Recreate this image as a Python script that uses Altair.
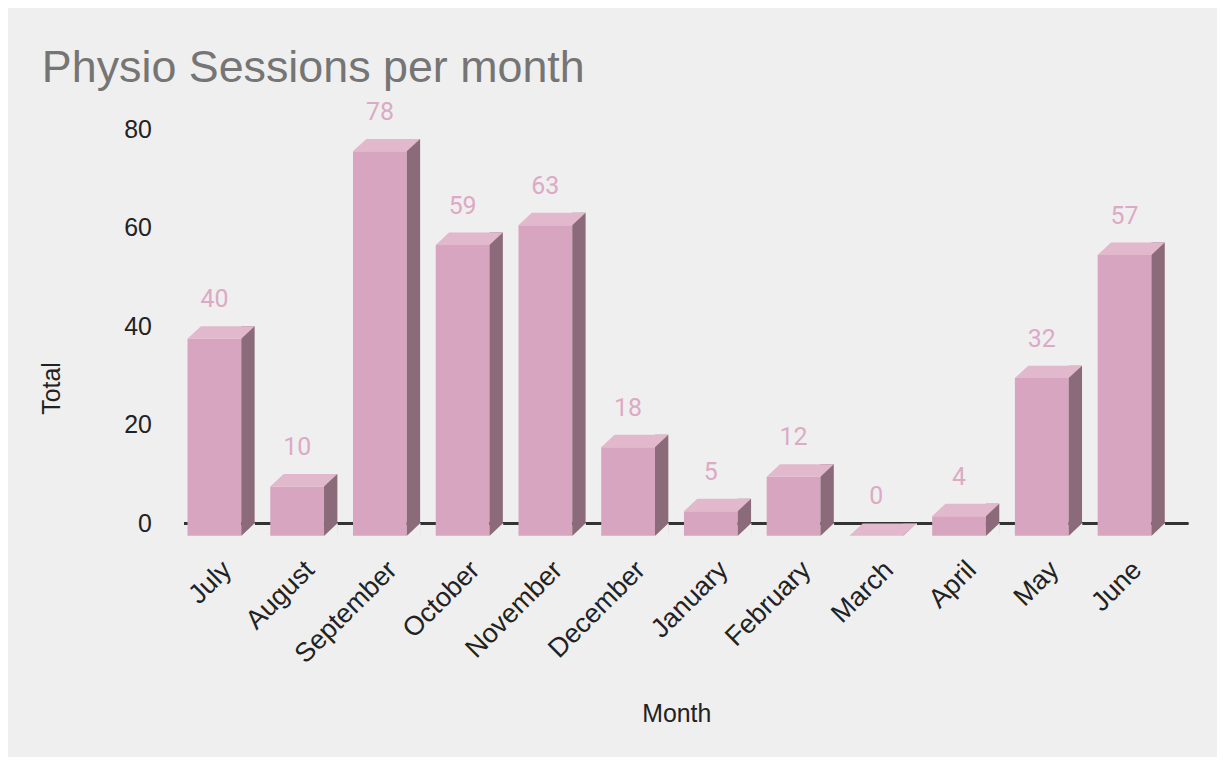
import altair as alt
import pandas as pd

months = ["July", "August", "September", "October", "November", "December",
          "January", "February", "March", "April", "May", "June"]
totals = [40, 10, 78, 59, 63, 18, 5, 12, 0, 4, 32, 57]

df = pd.DataFrame({"Month": months, "Total": totals})

W, H = 1008, 396
FRONT_W = 54.0
DX, DY = 13.4, 12.5
FRONT_OFF = -16.8
SIDE_OFF = FRONT_OFF + FRONT_W / 2 + DX / 2
FL = FRONT_OFF - FRONT_W / 2
FR = FRONT_OFF + FRONT_W / 2

FRONT_C = "#d8a5c0"
TOP_C = "#e1b8cc"
SIDE_C = "#8b6b79"
BG = "#efefef"
LABEL_C = "#dcaac5"

top_path = f"M{FL},{DY}L{FR},{DY}L{FR + DX},0L{FL + DX},0Z"
bg_tri = f"M{FR - 0.3},{DY + 0.3}L{FR + DX + 0.3},-0.3L{FR + DX + 0.6},{DY + 0.6}Z"

x_enc = alt.X(
    "Month:N", sort=months,
    scale=alt.Scale(paddingInner=0, paddingOuter=0.0664, round=False),
    axis=alt.Axis(
        title="Month", labelAngle=-45, labelFontSize=27, labelFont="Liberation Sans",
        labelColor="#222222", ticks=False, domain=False, labelPadding=33,
        labelOffset=-13,
        titleFontSize=25, titleFont="Liberation Sans", titleFontWeight="normal",
        titleColor="#222222", titleX=494, titleY=191, titleBaseline="middle",
        titleAlign="center",
    ),
)
y_enc = alt.Y(
    "Total:Q",
    scale=alt.Scale(domain=[0, 80], nice=False),
    axis=alt.Axis(
        title="Total", values=[0, 20, 40, 60, 80], labelFontSize=25,
        labelFont="Liberation Sans", labelColor="#222222", ticks=False, domain=False,
        labelPadding=33, gridColor="#c4c4c4", gridWidth=1.6,
        titleFontSize=25, titleFont="Liberation Sans", titleFontWeight="normal",
        titleColor="#222222", titleX=-133, titleY=260, titleAngle=-90,
        titleBaseline="middle", titleAlign="center",
    ),
)

base = alt.Chart(df).encode(x=x_enc)

zero = base.mark_rule(color="#333333", strokeWidth=2).encode(
    y=alt.datum(0), x=alt.value(0), x2=alt.value(W)
)

front = base.mark_bar(
    width=FRONT_W, xOffset=FRONT_OFF, yOffset=DY, y2Offset=DY, color=FRONT_C
).encode(y=y_enc, y2=alt.datum(0))

side = base.mark_bar(
    width=DX, xOffset=SIDE_OFF, yOffset=0, y2Offset=DY, color=SIDE_C
).encode(y="Total:Q", y2=alt.datum(0))

top = base.mark_point(
    shape=top_path, size=4, filled=True, color=TOP_C, opacity=1, strokeWidth=0
).encode(y="Total:Q")

cover = base.mark_point(
    shape=bg_tri, size=4, filled=True, color=BG, opacity=1, strokeWidth=0
).encode(y=alt.datum(0))

labels = base.mark_text(
    font="Roboto", fontSize=25, color=LABEL_C, dy=-19, baseline="alphabetic",
    xOffset=FRONT_OFF,
).encode(y="Total:Q", text="Total:Q")

chart = alt.layer(zero, front, side, top, cover, labels).properties(
    width=W, height=H,
    title=alt.Title(
        "Physio Sessions per month", anchor="start", frame="group",
        fontSize=45, font="Liberation Sans", fontWeight="normal",
        color="#757575", dx=-143, dy=-5,
    ),
    autosize=alt.AutoSizeParams(type="none"),
    padding={"left": 177, "top": 120, "right": 29, "bottom": 233},
).configure(background=BG).configure_view(stroke=None)

chart.save("out.html", embed_options={"renderer": "svg", "actions": False})
